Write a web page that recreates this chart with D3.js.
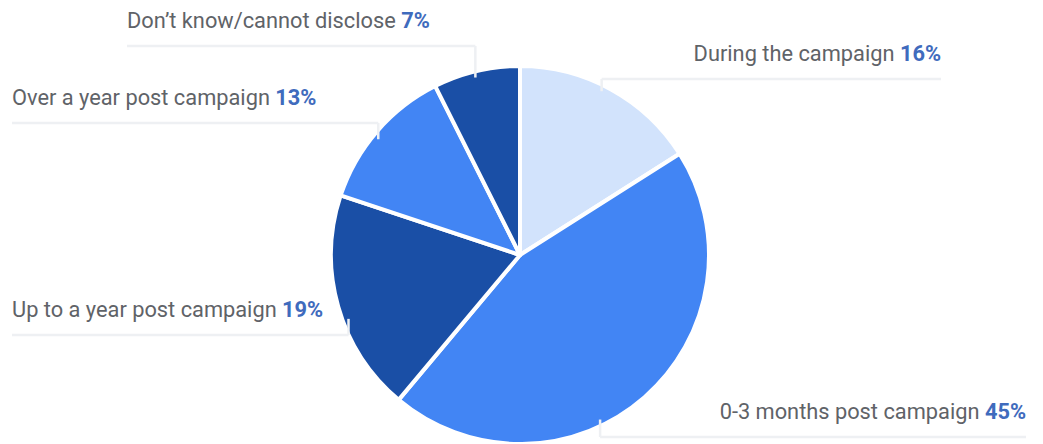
<!DOCTYPE html>
<html>
<head>
<meta charset="utf-8">
<script src="https://cdn.jsdelivr.net/npm/d3@7"></script>
<style>
  body { margin: 0; background: #fff; }
  svg { display: block; }
  .lbl { font-family: Roboto, sans-serif; font-size: 21.8px; fill: #5f6368; }
  .pct { font-weight: bold; fill: #3f6bbd; }
</style>
</head>
<body>
<div id="chart"></div>
<script>
// chart data (shares, labels show them rounded)
var categories = ["During the campaign", "0-3 months post campaign", "Up to a year post campaign",
                  "Over a year post campaign", "Don\u2019t know/cannot disclose"];
var values = [16.0, 45.1, 19.0, 12.5, 7.4];
var colors = ["#d2e3fc", "#4285f4", "#1a4fa6", "#4285f4", "#1a4fa6"];

// where each label sits (side, y of the underline, outer edge of the line, spot in the slice)
var labelLayout = [
    {side: "right", lineY: 79,  edge: 941,  t: 0.46},
    {side: "right", lineY: 437, edge: 1026, t: 0.594},
    {side: "left",  lineY: 335, edge: 12,   t: 0.433},
    {side: "left",  lineY: 123, edge: 12,   t: 0.464},
    {side: "left",  lineY: 46,  edge: 127,  t: 0.47}
];

var width = 1043, height = 444;
var cx = 520, cy = 255, radius = 189;

var svg = d3.select("#chart").append("svg")
    .attr("width", width)
    .attr("height", height);

var pie = d3.pie().sort(null).value(d => d);
var arcs = pie(values);
var arc = d3.arc().innerRadius(0).outerRadius(radius);

var g = svg.append("g").attr("transform", "translate(" + cx + "," + cy + ")");

g.selectAll("path.slice")
    .data(arcs)
    .enter()
    .append("path")
    .attr("class", "slice")
    .attr("d", arc)
    .attr("fill", (d, i) => colors[i])
    .attr("stroke", "#fff")
    .attr("stroke-width", 4)
    .attr("stroke-linejoin", "round");

// labels with leader lines
arcs.forEach(function(d, i){
    var lay = labelLayout[i];
    var a = d.startAngle + (d.endAngle - d.startAngle) * lay.t;
    var r = radius - 6;
    var ax = cx + r * Math.sin(a);
    var ay = cy - r * Math.cos(a);

    var text = svg.append("text")
        .attr("class", "lbl")
        .attr("y", lay.lineY - 18);
    text.append("tspan").text(categories[i] + " ");
    text.append("tspan").attr("class", "pct").text(Math.round(values[i]) + "%");

    var x1, x2;
    if (lay.side == "right"){
        text.attr("x", lay.edge).attr("text-anchor", "end");
        x1 = ax; x2 = lay.edge;
    } else {
        text.attr("x", lay.edge).attr("text-anchor", "start");
        x1 = lay.edge; x2 = ax;
    }

    svg.append("path")
        .attr("d", "M" + x1 + "," + lay.lineY + "H" + x2)
        .attr("stroke", "#eef0f3")
        .attr("stroke-width", 2.5)
        .attr("fill", "none");
    svg.append("path")
        .attr("d", "M" + ax + "," + lay.lineY + "V" + ay)
        .attr("stroke", "#eef0f3")
        .attr("stroke-width", 2.5)
        .attr("fill", "none");
});
</script>
</body>
</html>
